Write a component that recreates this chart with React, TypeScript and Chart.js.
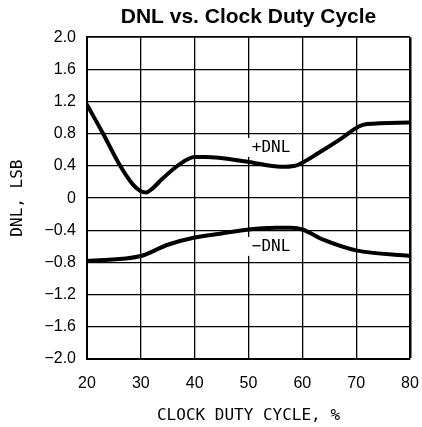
import React, { useEffect, useRef } from "react";
import { Chart, registerables } from "chart.js";

Chart.register(...registerables);

const titleText = "DNL vs. Clock Duty Cycle";
const xAxisTitle = "CLOCK DUTY CYCLE, %";
const yAxisTitle = "DNL, LSB";

const yTickLabels = ["−2.0", "−1.6", "−1.2", "−0.8", "−0.4", "0", "0.4", "0.8", "1.2", "1.6", "2.0"];

const plusDnlX = [20, 23, 26, 28.5, 30, 31, 32, 34, 37, 40, 42, 50, 56, 58.5, 60, 63, 67, 70.5, 72, 80];
const plusDnlY = [1.16, 0.8, 0.42, 0.17, 0.085, 0.07, 0.11, 0.24, 0.41, 0.51, 0.51, 0.45, 0.39, 0.4, 0.44, 0.56, 0.73, 0.89, 0.92, 0.94];

const minusDnlX = [20, 30, 35, 40, 45, 50, 55, 58, 60, 64, 70, 80];
const minusDnlY = [-0.78, -0.72, -0.58, -0.49, -0.44, -0.39, -0.37, -0.37, -0.39, -0.52, -0.65, -0.72];

const seriesLabels = ["+DNL", "−DNL"];
const labelAnchorX = [54.2, 54.2];
const labelAnchorY = [0.63, -0.6];

const labelPlugin = {
  id: "seriesLabels",
  beforeDatasetsDraw(chart: any) {
    const { ctx, scales } = chart;
    const x = scales.x;
    const y = scales.y;
    ctx.save();
    ctx.font = "16px 'DejaVu Sans Mono'";
    ctx.textAlign = "center";
    ctx.textBaseline = "middle";
    seriesLabels.forEach((t, i) => {
      const px = x.getPixelForValue(labelAnchorX[i]);
      const py = y.getPixelForValue(labelAnchorY[i]);
      const w = ctx.measureText(t).width + 8;
      const h = 19;
      ctx.fillStyle = "#fff";
      ctx.fillRect(px - w / 2, py - h / 2, w, h);
      ctx.fillStyle = "#000";
      ctx.fillText(t, px, py);
    });
    ctx.restore();
  },
};

export default function App() {
  const ref = useRef<HTMLCanvasElement | null>(null);

  useEffect(() => {
    if (!ref.current) return;
    const lineStyle = {
      borderColor: "#000",
      borderWidth: 4,
      pointRadius: 0,
      cubicInterpolationMode: "monotone" as const,
      borderCapStyle: "round" as const,
      borderJoinStyle: "round" as const,
      fill: false,
    };
    const chart = new Chart(ref.current, {
      type: "line",
      data: {
        datasets: [
          { ...lineStyle, label: seriesLabels[0], data: plusDnlX.map((v, i) => ({ x: v, y: plusDnlY[i] })) },
          { ...lineStyle, label: seriesLabels[1], data: minusDnlX.map((v, i) => ({ x: v, y: minusDnlY[i] })) },
        ],
      },
      options: {
        animation: false,
        responsive: false,
        events: [],
        layout: { padding: { top: 0, left: 0, right: 12, bottom: 0 } },
        plugins: {
          legend: { display: false },
          tooltip: { enabled: false },
          title: {
            display: true,
            text: titleText,
            fullSize: false,
            color: "#000",
            font: { family: "'Liberation Sans', Arial, sans-serif", size: 21, weight: "bold" },
            padding: { top: 5, bottom: 7 },
          },
        },
        scales: {
          x: {
            type: "linear",
            min: 20,
            max: 80,
            ticks: {
              stepSize: 10,
              color: "#000",
              padding: 15,
              font: { family: "'Liberation Sans', Arial, sans-serif", size: 16 },
            },
            grid: {
              color: "#000",
              drawTicks: false,
              lineWidth: (c: any) => (c.tick && c.tick.value === 80 ? 2.5 : 1.3),
            },
            border: { color: "#000", width: 2 },
            title: {
              display: true,
              text: xAxisTitle,
              color: "#000",
              font: { family: "'DejaVu Sans Mono', monospace", size: 16 },
              padding: { top: 0, bottom: 1.5 },
            },
            afterFit: (s: any) => {
              s.height = 68;
              s.paddingLeft = 0;
              s.paddingRight = 0;
            },
          },
          y: {
            type: "linear",
            min: -2,
            max: 2,
            ticks: {
              stepSize: 0.4,
              color: "#000",
              padding: 11,
              font: { family: "'Liberation Sans', Arial, sans-serif", size: 16 },
              callback: (_v: any, i: number) => yTickLabels[i],
            },
            grid: {
              color: "#000",
              drawTicks: false,
              lineWidth: (c: any) => (c.tick && Math.abs(c.tick.value - 2) < 1e-6 ? 1.8 : 1.3),
            },
            border: { color: "#000", width: 2 },
            title: {
              display: true,
              text: yAxisTitle,
              color: "#000",
              font: { family: "'DejaVu Sans Mono', monospace", size: 16 },
              padding: { top: 8, bottom: 0 },
            },
            afterFit: (s: any) => {
              s.width = 87;
            },
          },
        },
      },
      plugins: [labelPlugin],
    });
    return () => chart.destroy();
  }, []);

  return (
    <div style={{ position: "absolute", left: 0, top: 0, width: 422, height: 427, background: "#fff" }}>
      <canvas ref={ref} width={422} height={427} />
    </div>
  );
}
